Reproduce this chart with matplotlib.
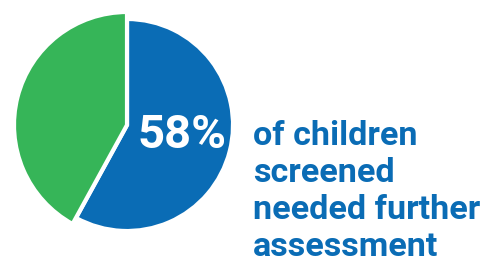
import matplotlib
matplotlib.use("Agg")
import matplotlib.pyplot as plt

labels = ["Needed further assessment", "Did not"]
values = [58, 42]
colors = ["#0a6cb5", "#36b558"]
big_label = "58%"
desc_lines = ["of children", "screened", "needed further", "assessment"]

W, H = 488, 263
fig = plt.figure(figsize=(W / 100, H / 100), dpi=100)
ax = fig.add_axes([0, 0, 1, 1])
ax.set_xlim(0, W)
ax.set_ylim(0, H)
ax.set_aspect("equal")
ax.axis("off")

wedges, _ = ax.pie(values, colors=colors, startangle=90, counterclock=False,
                   center=(127, H - 125), radius=113, explode=[0.035, 0],
                   wedgeprops=dict(edgecolor="white", linewidth=3))
wedges[0].set_radius(106)
ax.set_xlim(0, W)
ax.set_ylim(0, H)

font = ["Roboto", "DejaVu Sans"]
ax.text(138, H - 148, big_label, color="white", fontsize=34, fontweight="bold",
        family=font, ha="left", va="baseline")
ys = [145, 182, 219, 256]
for line, y in zip(desc_lines, ys):
    ax.text(253, H - y, line, color=colors[0], fontsize=24.6, fontweight="bold",
            family=font, ha="left", va="baseline")

fig.savefig("out.png", dpi=100)
